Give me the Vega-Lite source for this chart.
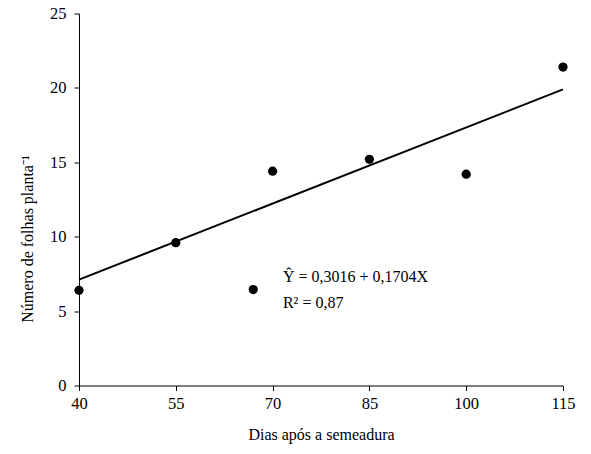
{
  "$schema": "https://vega.github.io/schema/vega-lite/v6.json",
  "width": 484,
  "height": 372,
  "autosize": {"type": "none"},
  "padding": {"left": 79, "top": 13.5, "right": 28, "bottom": 68.5},
  "background": "white",
  "config": {
    "view": {"stroke": null},
    "font": "Liberation Serif",
    "axis": {"grid": false, "domainColor": "black", "tickColor": "black", "labelColor": "black", "titleColor": "black", "labelFont": "Liberation Serif", "titleFont": "Liberation Serif", "labelFontSize": 16.5, "titleFontSize": 16, "titleFontWeight": "normal", "tickSize": 5, "domainWidth": 1, "tickWidth": 1, "labelFlush": false, "labelOverlap": false}
  },
  "datasets": {
    "obs": [
      {"dias": 40, "folhas": 6.4},
      {"dias": 55, "folhas": 9.6},
      {"dias": 67, "folhas": 6.45},
      {"dias": 70, "folhas": 14.4},
      {"dias": 85, "folhas": 15.2},
      {"dias": 100, "folhas": 14.2},
      {"dias": 115, "folhas": 21.4}
    ],
    "fit": [
      {"dias": 40, "folhas": 7.117},
      {"dias": 115, "folhas": 19.898}
    ],
    "eq": [
      {"dias": 71.6, "folhas": 7.31, "label": "Ŷ = 0,3016 + 0,1704X"},
      {"dias": 71.6, "folhas": 5.54, "label": "R² = 0,87"}
    ]
  },
  "layer": [
    {
      "data": {"name": "fit"},
      "mark": {"type": "line", "color": "black", "strokeWidth": 2},
      "encoding": {
        "x": {"field": "dias", "type": "quantitative", "scale": {"domain": [40, 115], "nice": false, "zero": false},
          "axis": {"values": [40, 55, 70, 85, 100, 115], "title": "Dias após a semeadura", "labelPadding": 5, "titlePadding": 14}},
        "y": {"field": "folhas", "type": "quantitative", "scale": {"domain": [0, 25], "nice": false},
          "axis": {"values": [0, 5, 10, 15, 20, 25], "title": "Número de folhas planta⁻¹", "labelPadding": 8, "titleY": 225, "titlePadding": 14}}
      }
    },
    {
      "data": {"name": "obs"},
      "mark": {"type": "point", "filled": true, "color": "black", "opacity": 1, "size": 85},
      "encoding": {
        "x": {"field": "dias", "type": "quantitative"},
        "y": {"field": "folhas", "type": "quantitative"}
      }
    },
    {
      "data": {"name": "eq"},
      "mark": {"type": "text", "align": "left", "baseline": "middle", "fontSize": 16, "font": "Liberation Serif", "color": "black"},
      "encoding": {
        "x": {"field": "dias", "type": "quantitative"},
        "y": {"field": "folhas", "type": "quantitative"},
        "text": {"field": "label"}
      }
    }
  ]
}
